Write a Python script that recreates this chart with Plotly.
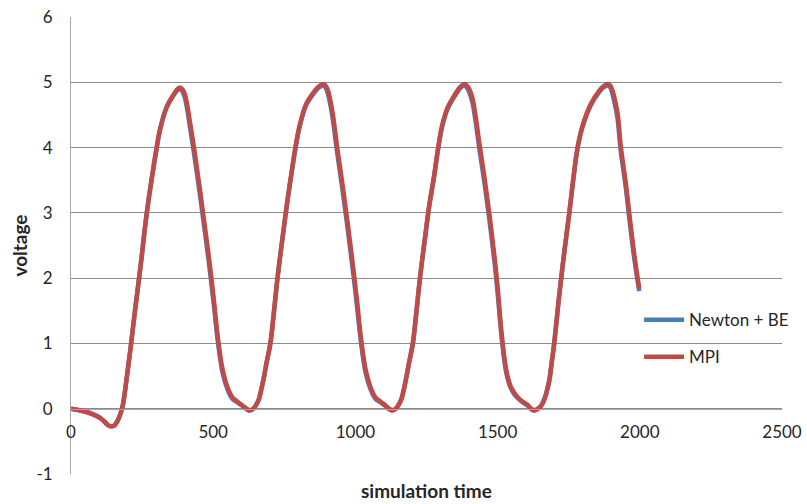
import plotly.graph_objects as go

# simulation time samples
sim_time = [0, 25, 55, 80, 102, 118, 130, 142, 152, 162, 172, 182, 195, 210, 225, 245, 265, 283, 301, 313, 336, 359, 375, 383,
            392, 400, 410, 418, 433, 451, 468, 483, 493, 503, 516, 533, 551, 568, 588, 603, 618, 628, 641, 651, 661, 669, 679, 687,
            701, 713, 726, 743, 758, 773, 789, 804, 827, 857, 872, 886,
            895, 903, 913, 921, 936, 954, 971, 986, 996, 1006, 1019, 1036, 1054, 1071, 1091, 1106, 1119, 1129, 1142, 1152,
            1162, 1170, 1180, 1188, 1202, 1214, 1227, 1244, 1259, 1276, 1291, 1305, 1325, 1348, 1369, 1383,
            1392, 1400, 1412, 1422, 1436, 1454, 1471, 1489, 1500, 1514, 1530, 1545, 1559, 1574, 1588, 1605, 1618, 1629, 1642, 1652,
            1660, 1670, 1682, 1690, 1699, 1710, 1717, 1734, 1752, 1766, 1781, 1799, 1828, 1857, 1872, 1887,
            1896, 1904, 1914, 1922, 1933, 1951, 1963, 1980, 1998]

newton_be = [0, -0.02, -0.05, -0.09, -0.14, -0.2, -0.25, -0.27, -0.26, -0.2, -0.1, 0.05, 0.44, 0.95, 1.5, 2.2, 2.95, 3.5, 3.98, 4.27, 4.61, 4.79, 4.88, 4.9,
             4.86, 4.77, 4.55, 4.32, 3.9, 3.35, 2.8, 2.3, 1.94, 1.56, 1.04, 0.55, 0.29, 0.15, 0.09, 0.04, -0.01, -0.03, 0.0, 0.06,
             0.15, 0.29, 0.5, 0.69, 1.0, 1.46, 2.0, 2.58, 3.08, 3.53, 3.98, 4.32, 4.65, 4.85, 4.92, 4.95,
             4.92, 4.83, 4.63, 4.42, 3.92, 3.37, 2.82, 2.3, 1.94, 1.56, 1.04, 0.55, 0.29, 0.15, 0.09, 0.04, -0.01, -0.03, 0.0, 0.06,
             0.15, 0.29, 0.5, 0.69, 1.0, 1.46, 2.0, 2.58, 3.08, 3.53, 3.98, 4.32, 4.6, 4.78, 4.91, 4.95,
             4.92, 4.85, 4.68, 4.42, 3.98, 3.45, 2.9, 2.25, 1.78, 1.1, 0.56, 0.33, 0.22, 0.15, 0.1, 0.05, -0.01, -0.03, 0.0, 0.04,
             0.1, 0.22, 0.44, 0.7, 1.0, 1.46, 1.75, 2.38, 2.99, 3.5, 3.98, 4.32, 4.65, 4.85, 4.92, 4.95,
             4.92, 4.82, 4.63, 4.44, 3.95, 3.38, 2.92, 2.32, 1.8]

mpi = [0, -0.02, -0.05, -0.09, -0.14, -0.2, -0.25, -0.27, -0.26, -0.2, -0.1, 0.05, 0.44, 0.95, 1.5, 2.2, 2.95, 3.5, 4.0, 4.28, 4.62, 4.8, 4.9, 4.92,
       4.89, 4.82, 4.62, 4.4, 3.98, 3.43, 2.88, 2.38, 2.02, 1.64, 1.1, 0.6, 0.32, 0.17, 0.1, 0.05, 0.0, -0.02, 0.0, 0.06,
       0.15, 0.29, 0.5, 0.69, 1.0, 1.46, 2.0, 2.6, 3.1, 3.55, 4.0, 4.34, 4.67, 4.87, 4.94, 4.975,
       4.95, 4.88, 4.7, 4.5, 4.0, 3.45, 2.9, 2.38, 2.02, 1.64, 1.1, 0.6, 0.32, 0.17, 0.1, 0.05, 0.0, -0.02, 0.0, 0.06,
       0.15, 0.29, 0.5, 0.69, 1.0, 1.46, 2.0, 2.6, 3.1, 3.55, 4.0, 4.34, 4.62, 4.8, 4.93, 4.975,
       4.95, 4.9, 4.75, 4.5, 4.06, 3.53, 2.98, 2.33, 1.86, 1.16, 0.6, 0.35, 0.24, 0.16, 0.11, 0.06, 0.0, -0.02, 0.0, 0.04,
       0.1, 0.22, 0.44, 0.7, 1.0, 1.46, 1.75, 2.38, 3.0, 3.52, 4.0, 4.34, 4.67, 4.87, 4.94, 4.975,
       4.95, 4.87, 4.7, 4.52, 4.02, 3.45, 2.99, 2.38, 1.84]

series_names = ["Newton + BE", "MPI"]
x_ticks = [0, 500, 1000, 1500, 2000, 2500]
y_ticks = [-1, 0, 1, 2, 3, 4, 5, 6]

FONT = "Lato"
TXT = "#262626"
GRID = "#8c8c8c"

fig = go.Figure()
fig.add_trace(go.Scatter(x=sim_time, y=newton_be, mode="lines", name=series_names[0],
                         legendgroup="a",
                         line=dict(color="#4A7EBB", width=4.5, shape="spline", smoothing=1.0)))
fig.add_trace(go.Scatter(x=sim_time, y=mpi, mode="lines", name=series_names[1],
                         legendgroup="b",
                         line=dict(color="#BE4B48", width=4.5, shape="spline", smoothing=1.0)))

fig.update_layout(
    width=807, height=504,
    margin=dict(l=71, r=25, t=17, b=30, autoexpand=False),
    paper_bgcolor="white", plot_bgcolor="white",
    font=dict(family=FONT, size=17, color=TXT),
    showlegend=True,
    legend=dict(x=0.799, y=0.376, xanchor="left", yanchor="top",
                bgcolor="rgba(0,0,0,0)", font=dict(family=FONT, size=17, color=TXT),
                tracegroupgap=12, itemwidth=40),
    xaxis=dict(range=[0, 2500], tickvals=x_ticks, ticktext=[str(v) for v in x_ticks],
               showgrid=False, zeroline=False, showline=True, linecolor="#a6a6a6", linewidth=1,
               anchor="free", position=1/7, ticks="", ticklabelstandoff=8, automargin=False,
               tickfont=dict(family=FONT, size=17, color=TXT)),
    yaxis=dict(range=[-1, 6], tickvals=y_ticks, ticktext=[str(v) for v in y_ticks],
               showgrid=True, gridcolor=GRID, gridwidth=1, zeroline=False, automargin=False,
               showline=True, linecolor="#a6a6a6", linewidth=1, ticks="", ticklabelstandoff=14,
               tickfont=dict(family=FONT, size=17, color=TXT)),
    annotations=[
        dict(text="<b>simulation time</b>", xref="paper", yref="paper", x=0.5, y=-0.036,
             xanchor="center", yanchor="middle", showarrow=False,
             font=dict(family=FONT, size=19, color=TXT)),
        dict(text="<b>voltage</b>", xref="paper", yref="paper", x=-0.073, y=0.5,
             xanchor="center", yanchor="middle", textangle=-90, showarrow=False,
             font=dict(family=FONT, size=19, color=TXT)),
    ],
)

fig.write_html("out.html")
